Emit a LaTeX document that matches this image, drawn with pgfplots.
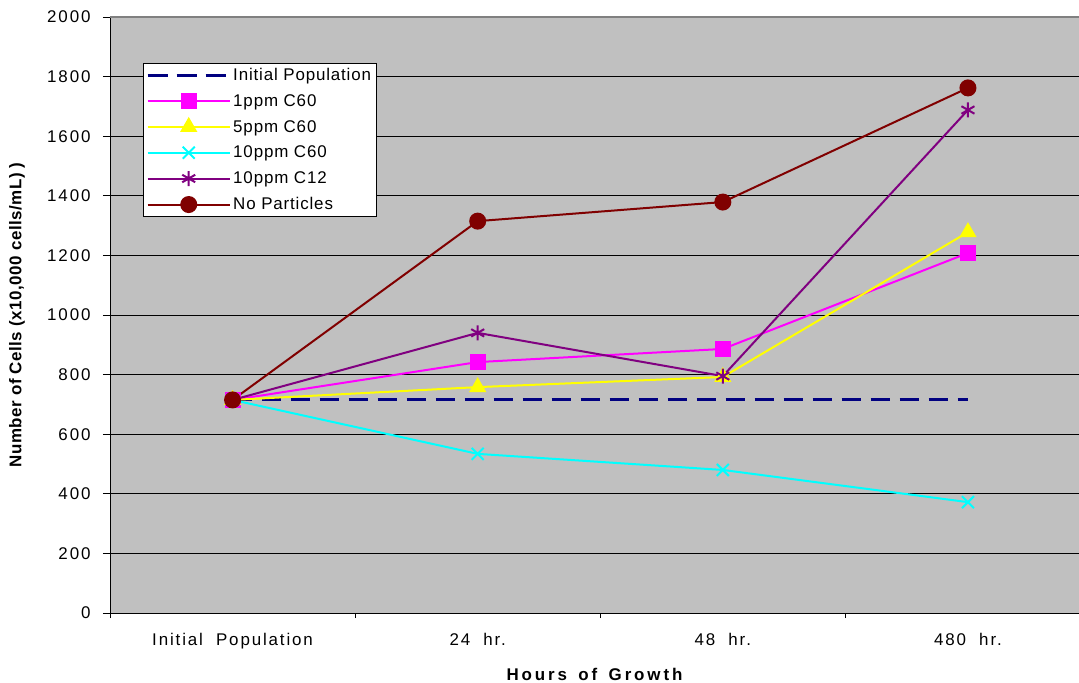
\documentclass[border=0pt]{standalone}
\usepackage{pgfplots}
\pgfplotsset{compat=1.18}
\usepackage{fontspec}
\setmainfont{Liberation Sans}
\newfontfamily\tickfont{Liberation Sans}[LetterSpace=11, WordSpace=2]
\newfontfamily\legfont{Liberation Sans}[LetterSpace=5]
\newfontfamily\xlabfont{Liberation Sans}[LetterSpace=17, WordSpace=1.5]
\newfontfamily\ylabfont{Liberation Sans}[LetterSpace=3]

\definecolor{plotbg}{HTML}{C0C0C0}
\definecolor{navyline}{HTML}{000080}
\definecolor{magline}{HTML}{FF00FF}
\definecolor{yelline}{HTML}{FFFF00}
\definecolor{cyanline}{HTML}{00FFFF}
\definecolor{purpline}{HTML}{800080}
\definecolor{redline}{HTML}{800000}

\pgfplotsset{
  markedlegend/.style={
    legend image code/.code={
      \draw[mark repeat=2,mark phase=2] plot coordinates {(0bp,0bp)(41bp,0bp)(82bp,0bp)};
    }
  }
}

\begin{document}
\begin{tikzpicture}[font=\tickfont\fontsize{17}{20}\selectfont]
\begin{axis}[
  name=ax,
  scale only axis,
  width=969bp, height=596bp,
  xmin=-0.5, xmax=3.453,
  ymin=0, ymax=2000,
  axis background/.style={fill=plotbg},
  axis lines*=left,
  axis line style={-, black, line width=0.8bp},
  ytick={0,200,...,1800},
  ymajorgrids,
  grid style={black, line width=0.6bp},
  extra y ticks={2000},
  extra y tick style={grid style={gray, line width=1.2bp}},
  tick align=outside,
  major tick length=7bp,
  tick style={black, line width=0.6bp},
  /pgf/number format/assume math mode=true,
  /pgf/number format/set thousands separator={},
  ticklabel style={font=\tickfont\fontsize{17}{20}\selectfont},
  yticklabel style={xshift=-9bp},
  xtick={0,1,2,3},
  xticklabels={Initial Population,24 hr.,48 hr.,480 hr.},
  xtick style={draw=none},
  xticklabel style={yshift=-10bp},
  extra x ticks={-0.5,0.5,1.5,2.5},
  extra x tick labels={},
  extra x tick style={xtick style={draw=black, line width=0.6bp}, major tick length=5bp, grid=none},
  xlabel={\xlabfont\fontsize{17}{20}\selectfont\bfseries Hours of Growth},
  xlabel style={at={(axis description cs:0.5,-0.1023)}, anchor=center},
  ylabel={\ylabfont\fontsize{17}{20}\selectfont\bfseries Number of Cells (x10,000 cells/mL) )},
  ylabel style={at={(axis description cs:-0.096,0.5)}, anchor=center},
  legend style={
    at={(axis description cs:0.034,0.923)}, anchor=north west,
    fill=white, draw=black, line width=0.6bp,
    font=\legfont\fontsize{17}{20}\selectfont,
    row sep=8.5bp, inner sep=3bp,
  },
  legend cell align=left,
  every axis plot/.append style={line width=2bp},
]

% Starting count carried across all time points
\addplot[navyline, line width=3bp, dash pattern=on 19bp off 10bp,
  legend image code/.code={\draw[dash pattern=on 20bp off 9bp] (0bp,0bp) -- (82bp,0bp);}]
  coordinates {(0,715) (1,715) (2,715) (3,715)};
\addlegendentry{Initial Population}

\addplot[magline, mark=square*, mark size=7bp, mark options={solid, fill=magline}, markedlegend]
  coordinates {(0,715) (1,842) (2,886) (3,1208)};
\addlegendentry{1ppm C60}

\addplot[yelline, mark=triangle*, mark size=8bp, mark options={solid, fill=yelline}, markedlegend]
  coordinates {(0,715) (1,758) (2,792) (3,1278)};
\addlegendentry{5ppm C60}

\addplot[cyanline, mark=x, mark size=8.5bp, mark options={solid, line width=2bp}, markedlegend]
  coordinates {(0,715) (1,534) (2,480) (3,372)};
\addlegendentry{10ppm C60}

\addplot[purpline, mark=asterisk, mark size=7.5bp, mark options={solid, line width=2bp}, markedlegend]
  coordinates {(0,715) (1,940) (2,795) (3,1688)};
\addlegendentry{10ppm C12}

\addplot[redline, mark=*, mark size=7.5bp, mark options={solid, fill=redline}, markedlegend]
  coordinates {(0,715) (1,1315) (2,1379) (3,1762)};
\addlegendentry{No Particles}

\end{axis}
\pgfresetboundingbox
\useasboundingbox ([xshift=-110bp,yshift=-70bp]ax.south west) rectangle ([yshift=17bp]ax.north east);
\end{tikzpicture}
\end{document}
